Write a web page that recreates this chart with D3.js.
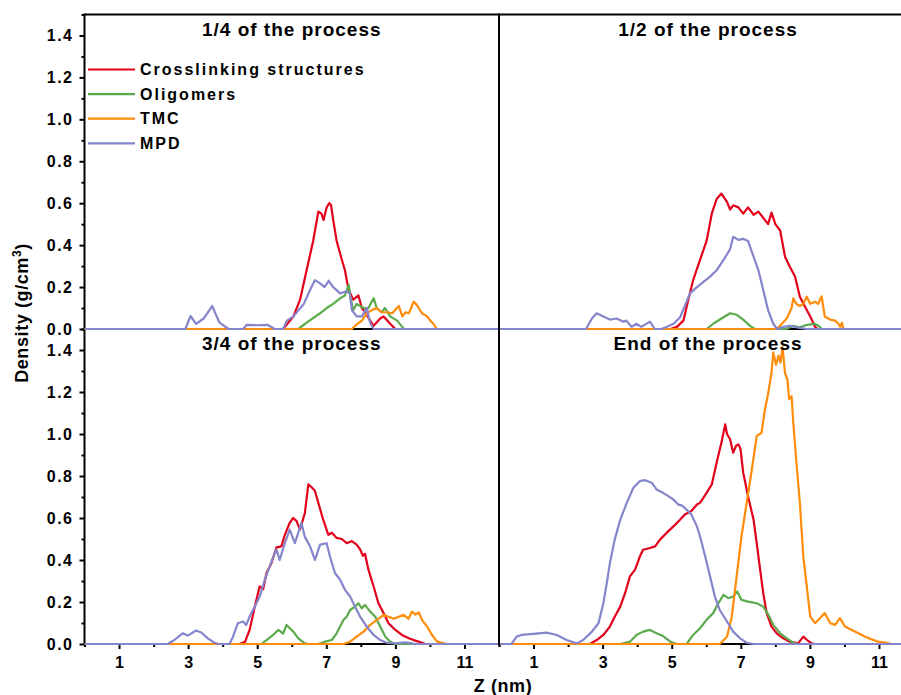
<!DOCTYPE html>
<html>
<head>
<meta charset="utf-8">
<script src="https://cdn.jsdelivr.net/npm/d3@7"></script>
<style>
  html, body { margin: 0; padding: 0; background: #fff; }
  svg { display: block; }
  text { font-family: "Liberation Sans", Arial, sans-serif; font-weight: bold; fill: #000; }
</style>
</head>
<body>
<svg id="chart" width="901" height="695"></svg>
<script>
// Density profiles along Z (nm) at four stages of the process

const seriesNames = ["Crosslinking structures", "Oligomers", "TMC", "MPD"];
const panelTitles = ["1/4 of the process", "1/2 of the process", "3/4 of the process", "End of the process"];
const xTickLabels = [1, 3, 5, 7, 9, 11];
const xMinorTicks = [0, 2, 4, 6, 8, 10, 12];
const yTickLabels = [0.0, 0.2, 0.4, 0.6, 0.8, 1.0, 1.2, 1.4];
const yMinorTicks = [0.1, 0.3, 0.5, 0.7, 0.9, 1.1, 1.3, 1.5];

// 1/4 of the process  ([Z nm, density g/cm3])
const crossQ1 = [[5.75,0],[6.05,0.06],[6.24,0.14],[6.43,0.28],[6.62,0.42],[6.77,0.56],[6.86,0.55],[6.92,0.52],[7.01,0.58],[7.09,0.6],[7.14,0.59],[7.2,0.52],[7.3,0.42],[7.45,0.33],[7.54,0.28],[7.64,0.19],[7.78,0.14],[7.93,0.16],[8.03,0.1],[8.13,0.08],[8.27,0.04],[8.37,0.015],[8.56,0.05],[8.66,0.06],[8.85,0.025],[9.0,0]];
const oligoQ1 = [[6.19,0],[6.43,0.03],[6.82,0.075],[7.01,0.1],[7.2,0.12],[7.4,0.146],[7.54,0.16],[7.65,0.21],[7.7,0.15],[7.78,0.09],[7.88,0.12],[8.08,0.1],[8.22,0.1],[8.37,0.147],[8.46,0.1],[8.6,0.08],[8.7,0.1],[8.85,0.06],[9.05,0.04],[9.2,0.01],[9.25,0]];
const tmcQ1 = [[7.74,0],[7.9,0.025],[8.03,0.04],[8.17,0.075],[8.32,0.09],[8.46,0.1],[8.6,0.08],[8.75,0.08],[8.91,0.075],[9.1,0.11],[9.2,0.06],[9.3,0.08],[9.39,0.075],[9.53,0.13],[9.62,0.115],[9.77,0.075],[9.92,0.06],[10.01,0.04],[10.1,0.025],[10.2,0]];
const mpdQ1 = [[2.92,0],[3.07,0.062],[3.23,0.024],[3.45,0.05],[3.7,0.11],[3.8,0.07],[3.91,0.03],[4.17,0],[4.59,0],[4.7,0.02],[5.0,0.018],[5.3,0.02],[5.5,0],[5.75,0],[5.86,0.04],[6.05,0.06],[6.35,0.12],[6.53,0.186],[6.67,0.233],[6.8,0.22],[6.95,0.2],[7.07,0.23],[7.2,0.2],[7.4,0.17],[7.59,0.18],[7.68,0.17],[7.74,0.09],[7.88,0.06],[8.03,0.06],[8.17,0.1],[8.27,0.03],[8.37,0]];

// 1/2 of the process
const crossQ2 = [[4.96,0],[5.15,0.01],[5.34,0.04],[5.48,0.14],[5.62,0.233],[5.82,0.33],[6.01,0.42],[6.16,0.55],[6.3,0.62],[6.44,0.646],[6.6,0.606],[6.69,0.57],[6.78,0.59],[6.93,0.58],[7.07,0.55],[7.21,0.58],[7.37,0.545],[7.51,0.56],[7.65,0.53],[7.79,0.5],[7.89,0.555],[8.0,0.5],[8.14,0.47],[8.28,0.345],[8.42,0.297],[8.57,0.25],[8.71,0.154],[8.86,0.106],[9.01,0.06],[9.15,0.01],[9.22,0]];
const oligoQ2 = [[6.01,0],[6.2,0.025],[6.44,0.05],[6.69,0.075],[6.88,0.068],[7.07,0.045],[7.27,0.015],[7.41,0],[8.31,0],[8.52,0.015],[8.71,0.008],[8.92,0.02],[9.15,0.025],[9.29,0.01],[9.34,0]];
const tmcQ2 = [[8.04,0],[8.19,0.025],[8.33,0.05],[8.47,0.1],[8.52,0.146],[8.61,0.12],[8.71,0.11],[8.81,0.12],[8.91,0.154],[9.01,0.12],[9.15,0.13],[9.24,0.12],[9.34,0.156],[9.43,0.06],[9.59,0.045],[9.73,0.04],[9.83,0.025],[9.88,0.01],[9.93,0.03],[9.97,0]];
const mpdQ2 = [[2.52,0],[2.69,0.05],[2.83,0.075],[3.02,0.06],[3.21,0.045],[3.41,0.05],[3.6,0.035],[3.69,0.04],[3.84,0.01],[3.98,0.025],[4.12,0.01],[4.37,0.035],[4.51,0],[4.7,0],[4.85,0.01],[5.05,0.025],[5.24,0.055],[5.38,0.11],[5.53,0.17],[5.73,0.2],[5.92,0.225],[6.11,0.25],[6.3,0.28],[6.5,0.33],[6.69,0.38],[6.78,0.44],[6.93,0.425],[7.07,0.43],[7.21,0.42],[7.37,0.345],[7.51,0.28],[7.65,0.186],[7.79,0.09],[7.94,0.025],[8.05,0],[8.24,0.01],[8.42,0.015],[8.71,0.005],[8.91,0]];

// 3/4 of the process
const crossQ3 = [[4.49,0],[4.65,0.011],[4.78,0.067],[4.93,0.178],[5.07,0.274],[5.17,0.26],[5.27,0.338],[5.41,0.385],[5.56,0.46],[5.7,0.465],[5.8,0.52],[5.94,0.577],[6.04,0.6],[6.14,0.585],[6.24,0.545],[6.38,0.624],[6.48,0.76],[6.58,0.745],[6.67,0.73],[6.77,0.672],[6.91,0.592],[7.06,0.52],[7.16,0.53],[7.3,0.505],[7.45,0.5],[7.59,0.48],[7.74,0.49],[7.88,0.473],[7.98,0.45],[8.06,0.42],[8.12,0.43],[8.22,0.354],[8.37,0.274],[8.51,0.194],[8.66,0.147],[8.8,0.099],[9.0,0.067],[9.19,0.043],[9.39,0.027],[9.58,0.016],[9.77,0.006],[9.87,0]];
const oligoQ3 = [[5.12,0],[5.27,0.019],[5.46,0.043],[5.61,0.067],[5.75,0.05],[5.85,0.091],[5.94,0.075],[6.04,0.06],[6.19,0.027],[6.38,0.003],[6.48,0],[6.77,0],[6.96,0.011],[7.16,0.019],[7.3,0.051],[7.5,0.115],[7.59,0.13],[7.69,0.162],[7.83,0.178],[7.93,0.194],[8.03,0.17],[8.12,0.186],[8.27,0.154],[8.42,0.13],[8.56,0.083],[8.71,0.035],[8.85,0.011],[9.0,0]];
const tmcQ3 = [[7.5,0],[7.69,0.011],[7.88,0.035],[8.08,0.059],[8.27,0.091],[8.47,0.115],[8.66,0.139],[8.8,0.13],[8.95,0.12],[9.1,0.13],[9.24,0.139],[9.38,0.12],[9.48,0.154],[9.58,0.14],[9.68,0.15],[9.77,0.115],[9.92,0.083],[10.06,0.043],[10.21,0.011],[10.41,0.003],[10.5,0]];
const mpdQ3 = [[2.41,0],[2.6,0.019],[2.84,0.051],[2.99,0.04],[3.23,0.064],[3.38,0.055],[3.57,0.027],[3.76,0.006],[3.9,0],[4.2,0],[4.3,0.035],[4.44,0.099],[4.59,0.107],[4.68,0.09],[4.78,0.13],[4.93,0.178],[5.07,0.226],[5.22,0.306],[5.36,0.37],[5.51,0.433],[5.56,0.45],[5.65,0.4],[5.8,0.48],[5.94,0.545],[6.09,0.48],[6.19,0.53],[6.28,0.577],[6.38,0.51],[6.53,0.465],[6.67,0.4],[6.82,0.473],[7.01,0.48],[7.1,0.42],[7.25,0.338],[7.4,0.306],[7.54,0.258],[7.69,0.226],[7.83,0.178],[7.98,0.13],[8.17,0.083],[8.37,0.043],[8.56,0.019],[8.75,0.006],[9.0,0.003],[9.3,0.008],[9.6,0]];

// End of the process
const crossEnd = [[2.63,0],[2.83,0.019],[3.02,0.043],[3.21,0.083],[3.35,0.13],[3.51,0.178],[3.65,0.242],[3.79,0.322],[3.94,0.354],[4.08,0.417],[4.17,0.449],[4.37,0.457],[4.52,0.465],[4.66,0.497],[4.85,0.529],[5.05,0.56],[5.24,0.592],[5.38,0.617],[5.57,0.633],[5.73,0.664],[5.82,0.672],[6.01,0.72],[6.16,0.76],[6.3,0.863],[6.44,0.959],[6.55,1.046],[6.6,1.0],[6.69,0.975],[6.78,0.911],[6.86,0.943],[6.93,0.951],[6.99,0.93],[7.07,0.816],[7.21,0.704],[7.37,0.592],[7.46,0.481],[7.56,0.354],[7.65,0.242],[7.75,0.147],[7.89,0.083],[8.04,0.051],[8.23,0.027],[8.42,0.011],[8.66,0.003],[8.81,0.035],[8.91,0.02],[9.05,0.003],[9.15,0]];
const oligoEnd = [[3.51,0],[3.79,0.011],[3.98,0.043],[4.17,0.059],[4.37,0.067],[4.56,0.051],[4.75,0.038],[4.96,0.011],[5.15,0],[5.43,0],[5.62,0.043],[5.82,0.075],[6.01,0.115],[6.2,0.147],[6.35,0.194],[6.5,0.234],[6.64,0.218],[6.78,0.226],[6.9,0.25],[7.02,0.21],[7.21,0.202],[7.46,0.194],[7.65,0.178],[7.8,0.139],[7.94,0.091],[8.14,0.051],[8.33,0.027],[8.52,0.006],[8.66,0]];
const tmcEnd = [[6.39,0],[6.6,0.035],[6.74,0.13],[6.88,0.322],[7.02,0.513],[7.17,0.672],[7.32,0.831],[7.46,0.99],[7.6,1.006],[7.7,1.118],[7.79,1.19],[7.89,1.293],[7.94,1.389],[8.02,1.33],[8.09,1.373],[8.15,1.34],[8.21,1.413],[8.28,1.29],[8.35,1.26],[8.4,1.166],[8.47,1.18],[8.52,1.054],[8.61,0.863],[8.71,0.672],[8.81,0.417],[8.91,0.274],[9.01,0.13],[9.15,0.099],[9.29,0.123],[9.43,0.147],[9.59,0.099],[9.73,0.091],[9.87,0.123],[10.02,0.083],[10.21,0.067],[10.41,0.051],[10.6,0.035],[10.79,0.022],[10.98,0.011],[11.23,0.006],[11.35,0]];
const mpdEnd = [[0.36,0],[0.51,0.035],[0.65,0.043],[0.99,0.048],[1.38,0.054],[1.67,0.043],[1.96,0.019],[2.25,0.003],[2.44,0.019],[2.69,0.059],[2.88,0.099],[3.02,0.194],[3.12,0.29],[3.21,0.385],[3.35,0.497],[3.51,0.592],[3.7,0.672],[3.89,0.744],[4.08,0.776],[4.23,0.78],[4.42,0.768],[4.56,0.736],[4.75,0.72],[4.9,0.704],[5.05,0.688],[5.19,0.664],[5.29,0.66],[5.43,0.64],[5.57,0.617],[5.73,0.56],[5.82,0.513],[5.97,0.417],[6.11,0.322],[6.25,0.226],[6.39,0.162],[6.6,0.107],[6.78,0.059],[6.98,0.027],[7.17,0.006],[7.37,0]];

const colors = ["#e3001b", "#5bab4c", "#ff8c0a", "#8585cc"];

const panelSeries = [
  [crossQ1, oligoQ1, tmcQ1, mpdQ1],
  [crossQ2, oligoQ2, tmcQ2, mpdQ2],
  [crossQ3, oligoQ3, tmcQ3, mpdQ3],
  [crossEnd, oligoEnd, tmcEnd, mpdEnd]
];

// ---- layout ----
const xDomain = [0, 12];
const yDomain = [0, 1.5];
const colX = [84.5, 499, 913.5];
const rowY = [14.5, 329, 644];

const svg = d3.select("#chart");
const FONT_TICK = 16;

const panels = [0, 1, 2, 3].map(i => {
  const c = i % 2, r = Math.floor(i / 2);
  const x = d3.scaleLinear().domain(xDomain).range([colX[c], colX[c + 1]]);
  const y = d3.scaleLinear().domain(yDomain).range([rowY[r + 1], rowY[r]]);
  return { i, c, r, x, y };
});

const defs = svg.append("defs");
panels.forEach(p => {
  defs.append("clipPath").attr("id", "clip" + p.i)
    .append("rect")
    .attr("x", colX[p.c]).attr("y", rowY[p.r] - 2)
    .attr("width", colX[p.c + 1] - colX[p.c]).attr("height", rowY[p.r + 1] - rowY[p.r] + 4);
});

// frame lines
const frame = svg.append("g").attr("stroke", "#000").attr("stroke-width", 2).attr("fill", "none");
frame.append("line").attr("x1", colX[0]).attr("x2", 901).attr("y1", rowY[0]).attr("y2", rowY[0]);
frame.append("line").attr("x1", colX[0]).attr("x2", 901).attr("y1", rowY[1]).attr("y2", rowY[1]);
frame.append("line").attr("x1", colX[0]).attr("x2", 901).attr("y1", rowY[2]).attr("y2", rowY[2]);
frame.append("line").attr("x1", colX[0]).attr("x2", colX[0]).attr("y1", rowY[0] - 1).attr("y2", rowY[2] + 1);

// y axes (left panels)
panels.filter(p => p.c === 0).forEach(p => {
  const major = d3.axisLeft(p.y).tickValues(yTickLabels).tickSize(5).tickFormat(d3.format(".1f")).tickPadding(6);
  const minor = d3.axisLeft(p.y).tickValues(yMinorTicks).tickSize(3).tickFormat("");
  const gMin = svg.append("g").attr("transform", `translate(${colX[0]},0)`).call(minor);
  const gMaj = svg.append("g").attr("transform", `translate(${colX[0]},0)`).call(major);
  [gMin, gMaj].forEach(g => {
    g.select(".domain").remove();
    g.selectAll("line").attr("stroke", "#000").attr("stroke-width", 2);
  });
  gMaj.selectAll("text")
    .attr("font-size", FONT_TICK).attr("font-family", "Liberation Sans, Arial, sans-serif")
    .attr("font-weight", "bold").attr("fill", "#000")
    .style("letter-spacing", "1.5px");
});

// x axes (bottom panels)
panels.filter(p => p.r === 1).forEach(p => {
  const major = d3.axisBottom(p.x).tickValues(xTickLabels).tickSize(5).tickFormat(d3.format("d")).tickPadding(8);
  const minor = d3.axisBottom(p.x).tickValues(xMinorTicks).tickSize(3).tickFormat("");
  const gMin = svg.append("g").attr("transform", `translate(0,${rowY[2]})`).call(minor);
  const gMaj = svg.append("g").attr("transform", `translate(0,${rowY[2]})`).call(major);
  [gMin, gMaj].forEach(g => {
    g.select(".domain").remove();
    g.selectAll("line").attr("stroke", "#000").attr("stroke-width", 2);
  });
  gMaj.selectAll("text")
    .attr("font-size", FONT_TICK).attr("font-family", "Liberation Sans, Arial, sans-serif")
    .attr("font-weight", "bold").attr("fill", "#000");
});

// data lines
panels.forEach(p => {
  const line = d3.line().x(d => p.x(d[0])).y(d => p.y(d[1]));
  const g = svg.append("g").attr("clip-path", `url(#clip${p.i})`);
  panelSeries[p.i].forEach((s, k) => {
    const pts = [[xDomain[0], 0], ...s, [xDomain[1], 0]];
    g.append("path").datum(pts)
      .attr("d", line)
      .attr("fill", "none")
      .attr("stroke", colors[k])
      .attr("stroke-width", 2.2)
      .attr("stroke-linejoin", "round");
  });
});

// divider between left and right panels
svg.append("line").attr("x1", colX[1]).attr("x2", colX[1]).attr("y1", rowY[0] - 1).attr("y2", rowY[2] + 1)
  .attr("stroke", "#000").attr("stroke-width", 2);

// panel titles
panels.forEach(p => {
  svg.append("text")
    .attr("x", p.c === 0 ? (colX[0] + colX[1]) / 2 : 708)
    .attr("y", rowY[p.r] + 21)
    .attr("text-anchor", "middle")
    .attr("font-size", 19)
    .style("letter-spacing", "1px")
    .text(panelTitles[p.i]);
});

// legend in first panel
const legend = svg.append("g");
const legendY0 = 69.5, legendDy = 24.6;
seriesNames.forEach((name, k) => {
  const yy = legendY0 + k * legendDy;
  legend.append("line").attr("x1", 88).attr("x2", 135).attr("y1", yy).attr("y2", yy)
    .attr("stroke", colors[k]).attr("stroke-width", 2.2);
  legend.append("text").attr("x", 140).attr("y", yy).attr("dy", "0.36em")
    .attr("font-size", 16).style("letter-spacing", "2px").text(name);
});

// axis titles
const yTitle = svg.append("text")
  .attr("transform", "translate(28,313) rotate(-90)")
  .attr("text-anchor", "middle")
  .attr("font-size", 18)
  .style("letter-spacing", "0.6px");
yTitle.append("tspan").text("Density (g/cm");
yTitle.append("tspan").attr("font-size", 12).attr("dy", -7).text("3");
yTitle.append("tspan").attr("dy", 7).text(")");

svg.append("text")
  .attr("x", 503).attr("y", 692)
  .attr("text-anchor", "middle")
  .attr("font-size", 18)
  .style("letter-spacing", "0.6px")
  .text("Z (nm)");
</script>
</body>
</html>
